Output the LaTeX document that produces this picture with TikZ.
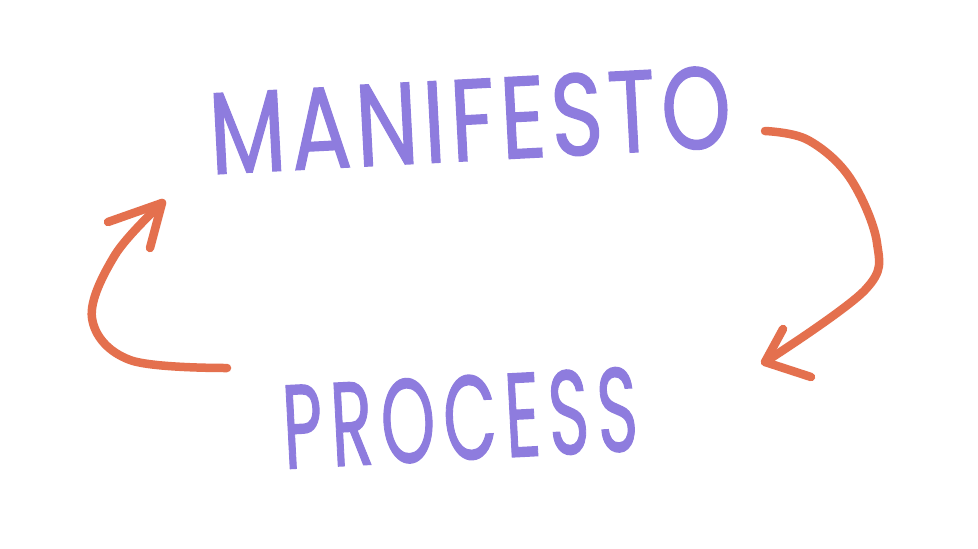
\documentclass[tikz,border=0pt]{standalone}
\usepackage{fontspec}
\setmainfont{Poppins}[FakeBold=1.2]
\usepackage{graphicx}
\definecolor{hpurple}{RGB}{142,124,222}
\definecolor{horange}{RGB}{228,112,78}
\begin{document}
\begin{tikzpicture}[x=1pt,y=-1pt,
  word/.style={text=hpurple, inner sep=0pt, anchor=center},
  stroke/.style={draw=horange, line width=8.5pt, line cap=round, line join=round}]
\useasboundingbox[fill=white] (0,0) rectangle (978,549);
\node[word, rotate=3] (manifesto) at (470,120) {\resizebox{522pt}{82pt}{\addfontfeature{LetterSpace=6}MANIFESTO}};
\node[word, rotate=3] (process) at (460,418) {\resizebox{355pt}{84pt}{\addfontfeature{LetterSpace=12}PROCESS}};
% right arrow
\coordinate (r0) at (765,131);
\coordinate (r1) at (808,140);
\coordinate (r2) at (850,178);
\coordinate (r3) at (877,243);
\coordinate (r4) at (865,290);
\coordinate (rt) at (765,362);
\coordinate (rb1) at (783,329);
\coordinate (rb2) at (811,377);
\draw[stroke] plot[smooth, tension=0.6] coordinates {(r0) (r1) (r2) (r3) (r4) (rt)};
\draw[stroke] (rb1) -- (rt) -- (rb2);
% left arrow
\coordinate (l0) at (227,368);
\coordinate (l1) at (130,360);
\coordinate (l2) at (92,318);
\coordinate (l3) at (115,255);
\coordinate (lt) at (162,203);
\coordinate (lb1) at (108,222);
\coordinate (lb2) at (150,248);
\draw[stroke] plot[smooth, tension=0.6] coordinates {(l0) (l1) (l2) (l3) (lt)};
\draw[stroke] (lb1) -- (lt) -- (lb2);
\end{tikzpicture}
\end{document}
